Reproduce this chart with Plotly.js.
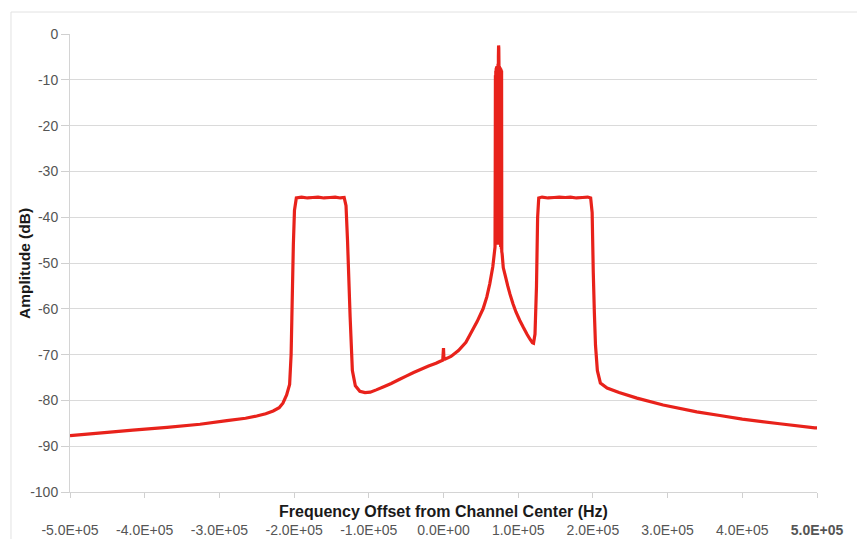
<!DOCTYPE html>
<html>
<head>
<meta charset="utf-8">
<script src="https://cdn.plot.ly/plotly-3.0.1.min.js"></script>
<style>
  html, body { margin: 0; padding: 0; background: #fff; }
  #chart { width: 857px; height: 539px; }
</style>
</head>
<body>
<div id="chart"></div>
<script>
// Frequency offset (Hz) and amplitude (dB)
const freqHz = [
  -500000, -450000, -416000, -370000, -326000, -290000, -265000, -250000, -238000, -228000, -220000, -215000,
  -210000, -206000, -204000, -203000, -201000, -199500, -197000,
  -190000, -182000, -175000, -168000, -160000, -152000, -145000, -138000, -133000,
  -130500, -128500, -125000, -122000, -118000, -112000, -105000, -98000,
  -90000, -80000, -70000, -60000, -50000, -40000, -30000, -20000, -10000, -5000, -1000, 0, 600, 2000,
  10000, 20000, 30000, 36000, 45000, 53000, 58000, 62000, 66000, 69000,
  69250, 69500, 69750, 70000, 70250, 70500, 70750, 71000, 71250, 71500,
  71750, 72000, 72250, 72500, 72750, 73000, 73250, 73500, 73750, 74000,
  74250, 74500, 74750, 75000, 75250, 75500, 75750, 76000, 76250, 76500,
  76750, 77000, 77250, 77500, 77750, 78000, 78500,
  80000, 83000, 86000, 89000, 93000, 97000, 102000, 107000, 112000, 116000, 119000, 120500,
  122500, 124500, 126000, 127500,
  132000, 140000, 148000, 155000, 163000, 170000, 178000, 186000, 193000, 197000,
  199000, 200500, 202000, 203500, 206000, 210000, 219000, 235000, 259000, 294000,
  339000, 370000, 400000, 450000, 497000, 500000
];
const ampDb = [
  -87.7, -87.0, -86.5, -85.9, -85.2, -84.4, -83.9, -83.4, -82.9, -82.3, -81.6, -80.6,
  -78.8, -76.5, -70.0, -62.0, -46.0, -38.5, -35.8,
  -35.6, -35.8, -35.7, -35.6, -35.8, -35.7, -35.6, -35.8, -35.7,
  -37.5, -45.0, -61.8, -73.5, -76.8, -78.0, -78.3, -78.2,
  -77.7, -77.0, -76.3, -75.5, -74.7, -73.9, -73.2, -72.5, -71.9, -71.5, -71.2, -68.6, -71.0, -71.0,
  -70.4, -69.1, -67.3, -65.5, -62.8, -60.0, -57.4, -54.5, -50.8, -46.5,
  -30.0, -9.0, -44.0, -8.0, -46.0, -7.5, -45.0, -7.2, -46.0, -7.0,
  -45.5, -7.0, -46.0, -7.0, -45.0, -6.5, -46.0, -5.0, -2.5, -3.0,
  -6.8, -46.0, -7.0, -45.5, -7.2, -46.0, -7.3, -45.5, -7.5, -46.5,
  -7.6, -46.0, -7.8, -47.0, -8.0, -47.5, -48.0,
  -51.0, -53.0, -55.0, -56.8, -58.9, -60.7, -62.5, -64.1, -65.6, -66.7, -67.4, -67.5,
  -65.5, -55.0, -40.0, -35.8,
  -35.6, -35.8, -35.7, -35.6, -35.7, -35.6, -35.8, -35.7, -35.6, -35.8,
  -39.0, -52.0, -61.0, -68.0, -73.5, -76.2, -77.3, -78.3, -79.5, -81.0,
  -82.5, -83.3, -84.1, -85.1, -86.0, -86.0
];

// Axis ticks
const xTickVals = [-500000, -400000, -300000, -200000, -100000, 0, 100000, 200000, 300000, 400000, 500000];
const xTickText = ['-5.0E+05', '-4.0E+05', '-3.0E+05', '-2.0E+05', '-1.0E+05', '0.0E+00',
                   '1.0E+05', '2.0E+05', '3.0E+05', '4.0E+05', '<b>5.0E+05</b>'];
const yTickVals = [0, -10, -20, -30, -40, -50, -60, -70, -80, -90, -100];
const yTickText = ['0', '-10', '-20', '-30', '-40', '-50', '-60', '-70', '-80', '-90', '-100'];

const FONT = 'Liberation Sans, Arial, sans-serif';

const trace = {
  x: freqHz,
  y: ampDb,
  type: 'scatter',
  mode: 'lines',
  line: { color: '#e8221b', width: 3.2, shape: 'linear', simplify: false },
  hoverinfo: 'x+y'
};

const layout = {
  width: 857,
  height: 539,
  margin: { l: 70, r: 40, t: 34, b: 47, pad: 0 },
  paper_bgcolor: '#ffffff',
  plot_bgcolor: '#ffffff',
  showlegend: false,
  font: { family: FONT, color: '#555555' },
  xaxis: {
    range: [-500000, 500000],
    tickmode: 'array',
    tickvals: xTickVals,
    ticktext: xTickText,
    showgrid: false,
    zeroline: false,
    showline: true,
    linecolor: '#d4d4d4',
    linewidth: 1,
    ticks: 'outside',
    ticklen: 5,
    tickcolor: '#d0d0d0',
    ticklabelstandoff: 20,
    tickfont: { size: 14, color: '#555555', family: FONT },
    fixedrange: true
  },
  yaxis: {
    range: [-100, 0],
    tickmode: 'array',
    tickvals: yTickVals,
    ticktext: yTickText,
    showgrid: true,
    gridcolor: '#dadada',
    gridwidth: 1,
    zeroline: false,
    showline: true,
    linecolor: '#d4d4d4',
    linewidth: 1,
    ticks: 'outside',
    ticklen: 8,
    tickcolor: '#d0d0d0',
    tickfont: { size: 14, color: '#555555', family: FONT },
    fixedrange: true
  },
  annotations: [
    {
      text: '<b>Frequency Offset from Channel Center (Hz)</b>',
      xref: 'paper', yref: 'paper',
      x: 0.5, y: -0.0415,
      xanchor: 'center', yanchor: 'middle',
      showarrow: false,
      font: { size: 16, color: '#1a1a1a', family: FONT }
    },
    {
      text: '<b>Amplitude (dB)</b>',
      xref: 'paper', yref: 'paper',
      x: -0.0616, y: 0.5,
      xanchor: 'center', yanchor: 'middle',
      textangle: -90,
      showarrow: false,
      font: { size: 15.5, color: '#1a1a1a', family: FONT }
    }
  ],
  shapes: [
    { type: 'line', xref: 'paper', yref: 'paper', x0: -0.079, x1: 1.06, y0: 1.048, y1: 1.048,
      line: { color: '#e2e2e2', width: 1 } },
    { type: 'line', xref: 'paper', yref: 'paper', x0: -0.079, x1: -0.079, y0: -0.11, y1: 1.048,
      line: { color: '#e2e2e2', width: 1 } }
  ]
};

Plotly.newPlot('chart', [trace], layout, { displayModeBar: false, staticPlot: true });
</script>
</body>
</html>
